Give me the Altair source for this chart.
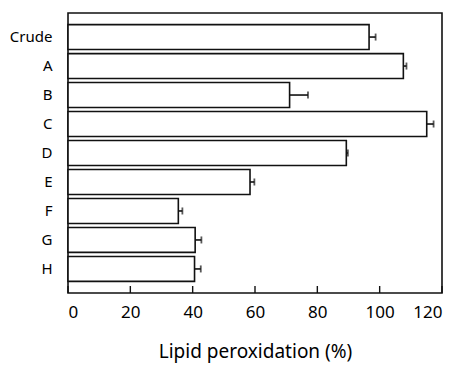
import altair as alt
import pandas as pd

categories = ["Crude", "A", "B", "C", "D", "E", "F", "G", "H"]
values = [96.6, 107.6, 71.1, 115.1, 89.3, 58.4, 35.4, 40.8, 40.6]
errors = [2.1, 1.0, 5.9, 2.2, 0.5, 1.4, 1.3, 2.0, 2.0]
x_ticks = [0, 20, 40, 60, 80, 100, 120]

df = pd.DataFrame({"cat": categories, "val": values, "err": errors})
df["hi"] = df["val"] + df["err"]
ticks_df = pd.DataFrame({"t": x_ticks})

W, H = 374, 280
FONT = "Noto Sans"
NBSP = "\u00a0"

xscale = alt.Scale(domain=[0, 120], nice=False, zero=True)
yscale = alt.Scale(domain=categories, paddingInner=0.14, paddingOuter=0.4)

base = alt.Chart(df)

bars = base.mark_bar(fill="white", stroke="#111", strokeWidth=1.6).encode(
    x=alt.X("val:Q", scale=xscale,
            axis=alt.Axis(values=x_ticks, title="Lipid peroxidation (%)", ticks=False,
                          domain=False, grid=False, labelFontSize=17, labelFont=FONT,
                          labelColor="black", labelPadding=11, titleFontSize=19,
                          titleFont=FONT, titleFontWeight="normal", titleColor="black",
                          titlePadding=22)),
    y=alt.Y("cat:N", scale=yscale, sort=categories,
            axis=alt.Axis(title=None, ticks=False, domain=False, labelFontSize=15,
                          labelFont=FONT, labelColor="black", labelPadding=16,
                          labelExpr="datum.label == 'Crude' ? datum.label : datum.label + '" + NBSP + "'")),
)

err_line = base.mark_rule(color="#111", strokeWidth=1.6).encode(
    x=alt.X("val:Q", scale=xscale), x2="hi:Q",
    y=alt.Y("cat:N", scale=yscale, sort=categories, bandPosition=0.5),
)

err_cap = base.mark_tick(color="#111", thickness=1.8, size=7).encode(
    x=alt.X("hi:Q", scale=xscale),
    y=alt.Y("cat:N", scale=yscale, sort=categories),
)

tick_marks = alt.Chart(ticks_df).mark_rule(color="#111", strokeWidth=1.4).encode(
    x=alt.X("t:Q", scale=xscale),
    y=alt.value(H),
    y2=alt.value(H - 7),
)

chart = alt.layer(bars, err_line, err_cap, tick_marks).properties(
    width=W, height=H,
    background="white",
    autosize=alt.AutoSizeParams(type="none"),
    padding={"left": 60, "top": 5, "right": 9, "bottom": 72},
).configure_view(stroke="#111", strokeWidth=1.6, fill="white")

chart.save("out.html", embed_options={"renderer": "svg", "actions": False})
